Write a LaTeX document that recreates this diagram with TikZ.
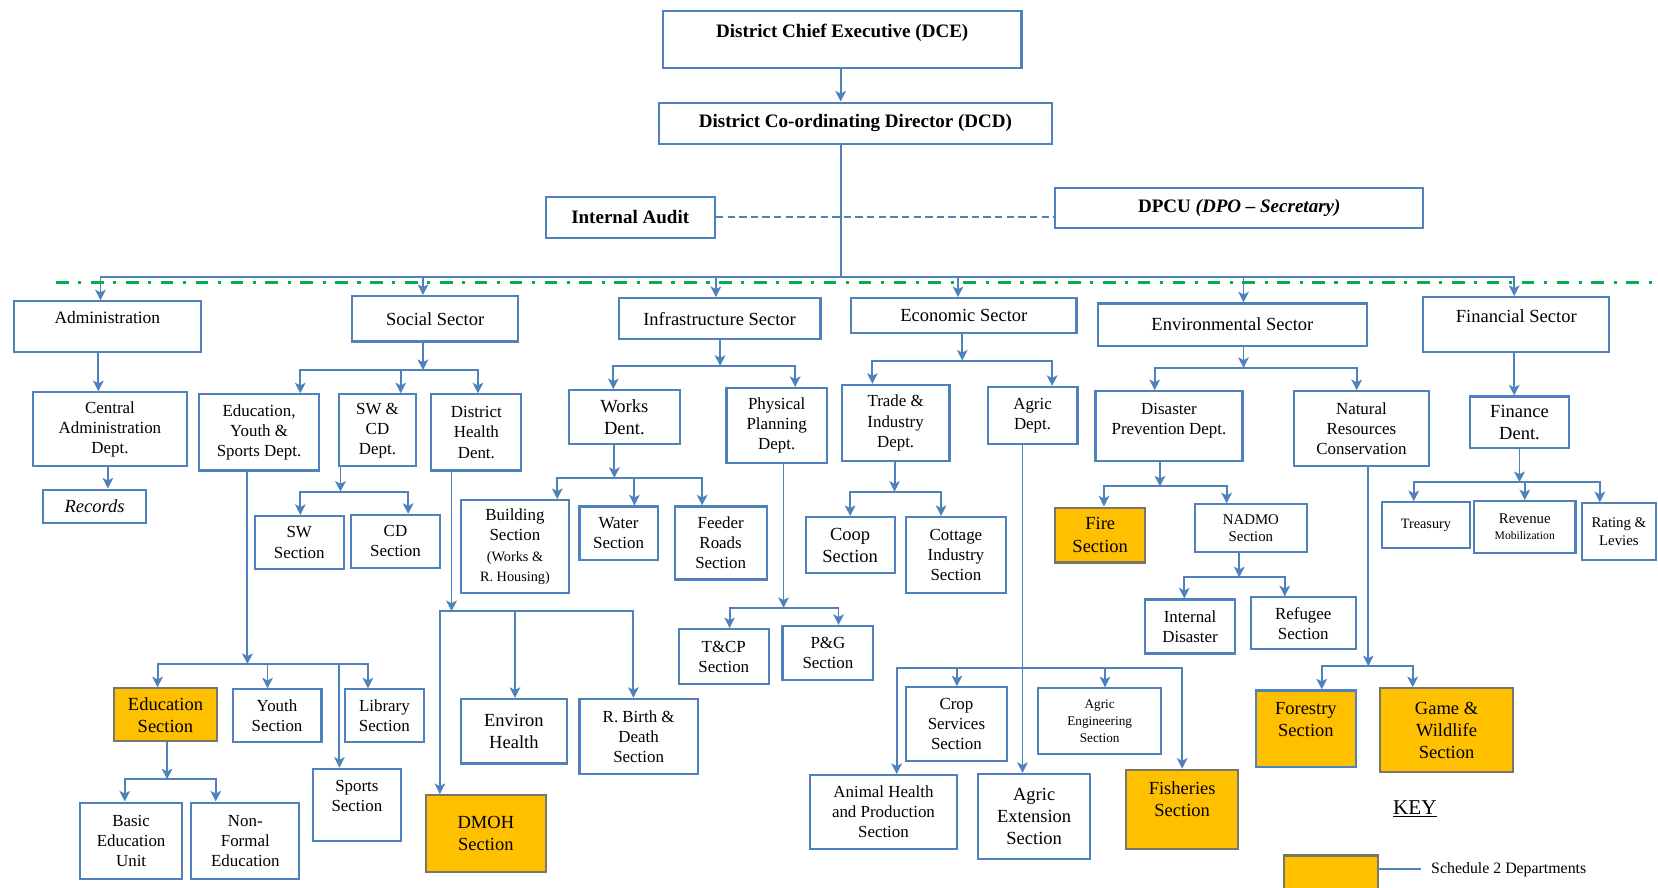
\documentclass[tikz,border=0pt]{standalone}
\usepackage{fontspec}
\setmainfont{Liberation Serif}
\usetikzlibrary{arrows.meta}
\definecolor{boxblue}{RGB}{79,129,189}
\definecolor{schedorange}{RGB}{255,192,0}
\definecolor{schedgrey}{RGB}{120,118,100}
\definecolor{sepgreen}{RGB}{0,176,80}
\newcommand{\boxfont}{\fontsize{16}{19}\selectfont}
\newcommand{\bigfont}{\fontsize{17.5}{21}\selectfont}
\newcommand{\smallfont}{\fontsize{13.5}{16}\selectfont}
\newcommand{\tinyfont}{\fontsize{11}{13}\selectfont}
\newcommand{\headfont}{\fontsize{18}{21}\selectfont\bfseries}
\tikzstyle{orgbox}=[draw=boxblue,line width=2pt,align=center,inner sep=2pt,font=\boxfont]
\tikzstyle{sector}=[orgbox,font=\bigfont]
\tikzstyle{head}=[orgbox,font=\headfont]
\tikzstyle{schedbox}=[orgbox,font=\bigfont,fill=schedorange,draw=schedgrey]
\tikzstyle{toplabel}=[anchor=north,align=center,inner sep=2pt]
\tikzstyle{link}=[draw=boxblue,line width=1.8pt]
\tikzstyle{linkarrow}=[link,-{Stealth[length=10pt,width=10pt,inset=2.5pt]}]
\tikzstyle{sepline}=[draw=sepgreen,line width=2.5pt,dash pattern=on 12pt off 9pt on 3pt off 9pt]
\tikzset{sz/.style n args={2}{minimum width=#1pt,minimum height=#2pt}}
% parent, x of the drop, y of the bus, x/child list
\newcommand{\orgbranch}[4]{%
  \coordinate (busJ) at (#2,#3);
  \draw[linkarrow] (busJ |- #1.south) -- (busJ);
  \foreach \cx/\cn in {#4}
    \draw[linkarrow] (busJ) -| (\cx,0 |- \cn.north);
}

\begin{document}
\begin{tikzpicture}[x=1pt,y=-1pt]
	\useasboundingbox (0,0) rectangle (1568,839);
	\clip (0,0) rectangle (1568,839);

	\node[head, sz={339}{54}, label={[toplabel,font=\headfont,yshift=-12pt]north:District Chief Executive (DCE)}] (dce) at (796.5,37) {};
	\node[head, sz={372}{39}] (dcd) at (809,116.5) {District Co-ordinating Director (DCD)};
	\node[head, sz={160}{39}] (audit) at (596,205.5) {Internal Audit};
	\node[head, sz={348}{38}] (dpcu) at (1172,197) {DPCU \textit{(DPO -- Secretary)}};

	\node[sector, sz={177}{48}, label={[toplabel,font=\fontsize{16.5}{19}\selectfont,yshift=-8pt]north:Administration}] (adm) at (101.5,309) {};
	\node[sector, sz={157}{43}] (soc) at (411.5,301.5) {Social Sector};
	\node[sector, sz={191}{39}] (inf) at (680.5,301.5) {Infrastructure Sector};
	\node[sector, sz={213}{33}] (eco) at (911.5,298.5) {Economic Sector};
	\node[sector, sz={255}{40}] (env) at (1165.5,307) {Environmental Sector};
	\node[sector, sz={176}{52}, label={[toplabel,font=\bigfont,yshift=-11pt]north:Financial Sector}] (fin) at (1434,307) {};

	\node[orgbox, sz={146}{70}] (cadm) at (104,406) {Central\\Administration\\Dept.};
	\node[orgbox, sz={97}{32}, font=\bigfont\itshape] (rec) at (89.5,479) {Records};

	\node[orgbox, sz={114}{72}] (eys) at (245,409) {Education,\\Youth \&\\Sports Dept.};
	\node[orgbox, sz={72}{68}] (swcd) at (357,407) {SW \&\\CD\\Dept.};
	\node[orgbox, sz={85}{72}] (dh) at (450.5,409) {District\\Health\\Dent.};
	\node[orgbox, sz={84}{50}] (swSec) at (283,513) {SW\\Section};
	\node[orgbox, sz={84}{50}] (cdSec) at (374,512) {CD\\Section};
	\node[schedbox, sz={97}{50}] (eduSec) at (156.5,676) {Education\\Section};
	\node[orgbox, sz={84}{50}] (youthSec) at (262,677) {Youth\\Section};
	\node[orgbox, sz={75}{50}] (libSec) at (363.5,677) {Library\\Section};
	\node[orgbox, sz={83}{68}, label={[toplabel,font=\boxfont,yshift=-10pt]north:Sports\\Section}] (sportsSec) at (337.5,761) {};
	\node[orgbox, sz={96}{72}] (basicEdu) at (124,795) {Basic\\Education\\Unit};
	\node[orgbox, sz={102}{72}] (nonFormal) at (232,795) {Non-\\Formal\\Education};
	\node[orgbox, sz={100}{61}, font=\bigfont] (environ) at (486,691.5) {Environ\\Health};
	\node[orgbox, sz={112}{71}] (birthSec) at (604,696.5) {R. Birth \&\\Death\\Section};
	\node[schedbox, sz={113}{73}] (dmoh) at (459.5,788.5) {DMOH\\Section};

	\node[orgbox, sz={105}{51}, font=\bigfont] (works) at (590.5,394.5) {Works\\Dent.};
	\node[orgbox, sz={95}{71}] (plan) at (734.5,402.5) {Physical\\Planning\\Dept.};
	\node[orgbox, sz={102}{88}] (building) at (487,517) {Building\\Section\\{\smallfont (Works \&}\\{\smallfont R. Housing)}};
	\node[orgbox, sz={74}{51}] (water) at (585,504.5) {Water\\Section};
	\node[orgbox, sz={87}{69}] (feeder) at (681.5,513.5) {Feeder\\Roads\\Section};
	\node[orgbox, sz={85}{52}] (tcp) at (684.5,621) {T\&CP\\Section};
	\node[orgbox, sz={86}{51}] (pg) at (783,617.5) {P\&G\\Section};

	\node[orgbox, sz={102}{72}] (trade) at (847,400) {Trade \&\\Industry\\Dept.};
	\node[orgbox, sz={85}{54}] (agric) at (976.5,393) {Agric\\Dept.};
	\node[orgbox, sz={84}{53}, font=\bigfont] (coop) at (804,515.5) {Coop\\Section};
	\node[orgbox, sz={94}{72}] (cottage) at (904,525) {Cottage\\Industry\\Section};
	\node[orgbox, sz={95}{70}] (crop) at (904.5,685) {Crop\\Services\\Section};
	\node[orgbox, sz={116}{62}, font=\fontsize{12.5}{16}\selectfont] (agrEng) at (1040,682) {Agric\\Engineering\\Section};
	\node[orgbox, sz={139}{70}] (animal) at (835.5,768) {Animal Health\\and Production\\Section};
	\node[orgbox, sz={106}{80}, font=\bigfont] (agrExt) at (978,772) {Agric\\Extension\\Section};
	\node[schedbox, sz={106}{75}, label={[toplabel,font=\bigfont,yshift=-10pt]north:Fisheries\\Section}] (fish) at (1118,765.5) {};

	\node[orgbox, sz={139}{66}, label={[toplabel,font=\boxfont,yshift=-10pt]north:Disaster\\Prevention Dept.}] (disaster) at (1105.5,403) {};
	\node[orgbox, sz={127}{71}] (natural) at (1287.5,405.5) {Natural\\Resources\\Conservation};
	\node[schedbox, sz={85}{52}] (fire) at (1040.5,506) {Fire\\Section};
	\node[orgbox, sz={106}{45}, font=\fontsize{14}{16}\selectfont] (nadmo) at (1183,499.5) {NADMO\\Section};
	\node[orgbox, sz={85}{51}] (internal) at (1125.5,592.5) {Internal\\Disaster};
	\node[orgbox, sz={99}{49}] (refugee) at (1232.5,589.5) {Refugee\\Section};
	\node[schedbox, sz={94}{72}, draw=boxblue, label={[toplabel,font=\bigfont,yshift=-10pt]north:Forestry\\Section}] (forestry) at (1235,689) {};
	\node[schedbox, sz={126}{79}] (game) at (1368,690.5) {Game \&\\Wildlife\\Section};

	\node[orgbox, sz={94}{49}, font=\bigfont] (finDept) at (1437,399.5) {Finance\\Dent.};
	\node[orgbox, sz={83}{43}, font=\fontsize{13.5}{16}\selectfont] (treasury) at (1348.5,496.5) {Treasury};
	\node[orgbox, sz={96}{49}, font=\fontsize{14}{15}\selectfont] (revenue) at (1442,498.5) {Revenue\\{\tinyfont Mobilization}};
	\node[orgbox, sz={70}{54}, font=\fontsize{14}{17}\selectfont] (rating) at (1531,503) {Rating \&\\Levies};

	\node[schedbox, sz={89}{41}] (keyBox) at (1258.5,829.5) {};
	\node[font=\fontsize{20}{22}\selectfont] (keyTitle) at (1338,765) {\underline{KEY}};
	\node[anchor=west, font=\fontsize{15}{17}\selectfont] (keyText) at (1350,822) {Schedule 2 Departments};
	\draw[link, shorten >=6pt] (keyBox.east |- keyText) -- (keyText.west);

	\coordinate (mainBus) at (795,262);
	\draw[linkarrow] (mainBus |- dce.south) -- (mainBus |- dcd.north);
	\draw[link] (mainBus |- dcd.south) -- (mainBus);
	\draw[link, line width=1.6pt, dash pattern=on 7pt off 4pt] (audit.east) -- (audit.east -| dpcu.west);
	\foreach \x/\n in {95/adm,400/soc,677/inf,906/eco,1176/env,1432/fin}
		\draw[linkarrow] (mainBus) -| (\x,0 |- \n.north);
	\draw[sepline] (53,267) -- (1568,267);

	\draw[linkarrow] (93,0 |- adm.south) -- (93,0 |- cadm.north);
	\draw[linkarrow] (102,0 |- cadm.south) -- (102,0 |- rec.north);

	\orgbranch{soc}{400}{350}{284/eys,379/swcd,452/dh}
	\orgbranch{swcd}{322}{465}{284/swSec,386/cdSec}
	\orgbranch{eys}{234}{628}{149/eduSec,253/youthSec,321/sportsSec,348/libSec}
	\orgbranch{eduSec}{158}{737}{118/basicEdu,204/nonFormal}
	\orgbranch{dh}{427}{578}{416/dmoh,487/environ,599/birthSec}
	\orgbranch{inf}{681}{346}{580/works,752/plan}
	\orgbranch{works}{581}{452}{527/building,600/water,664/feeder}
	\orgbranch{plan}{741}{575}{690/tcp,793/pg}
	\orgbranch{eco}{910}{341}{825/trade,995/agric}
	\orgbranch{trade}{846}{465}{804/coop,890/cottage}
	\orgbranch{env}{1176}{348}{1092/disaster,1283/natural}
	\orgbranch{disaster}{1097}{460}{1044/fire,1160/nadmo}
	\orgbranch{nadmo}{1172}{546}{1120/internal,1215/refugee}
	\orgbranch{natural}{1294}{630}{1250/forestry,1336/game}
	\orgbranch{finDept}{1437}{456}{1337/treasury,1442/revenue,1513/rating}
	\draw[linkarrow] (1432,0 |- fin.south) -- (1432,0 |- finDept.north);

	\draw[linkarrow] (967,0 |- agric.south) -- (967,0 |- agrExt.north);
	\coordinate (agricBus) at (967,632);
	\foreach \x/\n in {848/animal,905/crop,1045/agrEng,1118/fish}
		\draw[linkarrow] (agricBus) -| (\x,0 |- \n.north);
\end{tikzpicture}
\end{document}
